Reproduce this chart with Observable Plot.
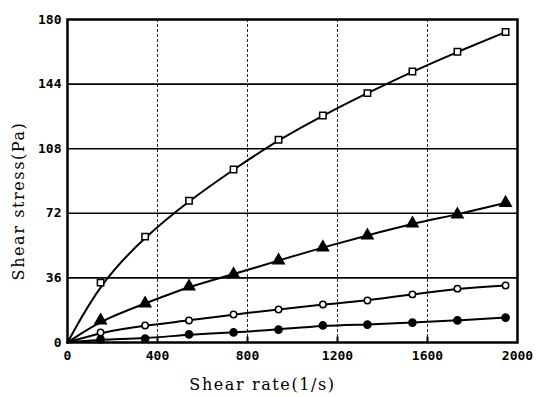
<!DOCTYPE html>
<html>
<head>
<meta charset="utf-8">
<script src="https://cdn.jsdelivr.net/npm/d3@7"></script>
<script src="https://cdn.jsdelivr.net/npm/@observablehq/plot@0.6"></script>
<style>
html, body { margin: 0; padding: 0; background: #fff; }
#chart { width: 538px; height: 397px; }
svg .title-text text { letter-spacing: 1.6px; }
</style>
</head>
<body>
<div id="chart"></div>
<script>
const shearRate = [147, 345, 540, 738, 938, 1135, 1333, 1533, 1733, 1947];
const seriesSquare = [33.4, 59, 79, 96.4, 113, 126.5, 139, 151, 162, 173];
const seriesTriangle = [12.3, 21.7, 31.2, 38, 45.7, 53, 59.6, 66.3, 71.3, 77.8];
const seriesOpen = [5.6, 9.5, 12.3, 15.6, 18.4, 21.2, 23.4, 26.8, 30, 31.8];
const seriesFilled = [1.7, 2.2, 4.5, 5.6, 7.2, 9.5, 10, 11.1, 12.3, 13.9];
const xTicks = [0, 400, 800, 1200, 1600, 2000];
const yTicks = [0, 36, 72, 108, 144, 180];

const series = [
  {name: "s1", values: seriesSquare, symbol: "square", fill: "white", r: 3.6},
  {name: "s2", values: seriesTriangle, symbol: "triangle", fill: "black", r: 4.2},
  {name: "s3", values: seriesOpen, symbol: "circle", fill: "white", r: 3.2},
  {name: "s4", values: seriesFilled, symbol: "circle", fill: "black", r: 3.6}
];

const lines = [];
for (const s of series) {
  lines.push({name: s.name, x: 0, y: 0});
  shearRate.forEach((x, i) => lines.push({name: s.name, x, y: s.values[i]}));
}
const dotMarks = series.map(s =>
  Plot.dot(shearRate.map((x, i) => ({x, y: s.values[i]})), {
    x: "x", y: "y", symbol: s.symbol, fill: s.fill, r: s.r, stroke: "black", strokeWidth: 1.5
  })
);

const tickFont = "DejaVu Sans Mono";
const titleFont = "DejaVu Serif";
const chart = Plot.plot({
  width: 538,
  height: 397,
  marginLeft: 67,
  marginRight: 21,
  marginTop: 19,
  marginBottom: 55,
  style: {background: "white", color: "black"},
  x: {domain: [0, 2000], ticks: xTicks, tickFormat: d => String(d)},
  y: {domain: [0, 180], ticks: yTicks, tickFormat: d => String(d)},
  marks: [
    Plot.gridX(xTicks.slice(1, -1), {stroke: "black", strokeOpacity: 0.85, strokeWidth: 1, strokeDasharray: "3,2"}),
    Plot.gridY(yTicks.slice(1, -1), {stroke: "black", strokeOpacity: 1, strokeWidth: 1.6}),
    Plot.axisX(xTicks, {tickSize: 0, tickPadding: 8, fontSize: 13, fontWeight: "bold", fontFamily: tickFont, label: null, tickFormat: d => String(d)}),
    Plot.axisY(yTicks, {tickSize: 0, tickPadding: 6, fontSize: 13, fontWeight: "bold", fontFamily: tickFont, label: null, tickFormat: d => String(d)}),
    Plot.ruleX(xTicks.slice(1, -1), {y1: 0, y2: 3, stroke: "black", strokeWidth: 2}),
    Plot.line(lines, {x: "x", y: "y", z: "name", curve: "basis", stroke: "black", strokeWidth: 2}),
    ...dotMarks,
    Plot.frame({stroke: "black", strokeWidth: 2.5}),
    Plot.text(["Shear rate(1/s)"], {frameAnchor: "bottom", textAnchor: "middle", dx: -30, dy: 47, fontSize: 16, fontFamily: titleFont, fill: "black", className: "title-text"}),
    Plot.text(["Shear stress(Pa)"], {frameAnchor: "left", textAnchor: "middle", dx: -49, dy: 20, rotate: -90, fontSize: 16, fontFamily: titleFont, fill: "black", className: "title-text"})
  ]
});
document.getElementById("chart").appendChild(chart);
</script>
</body>
</html>
